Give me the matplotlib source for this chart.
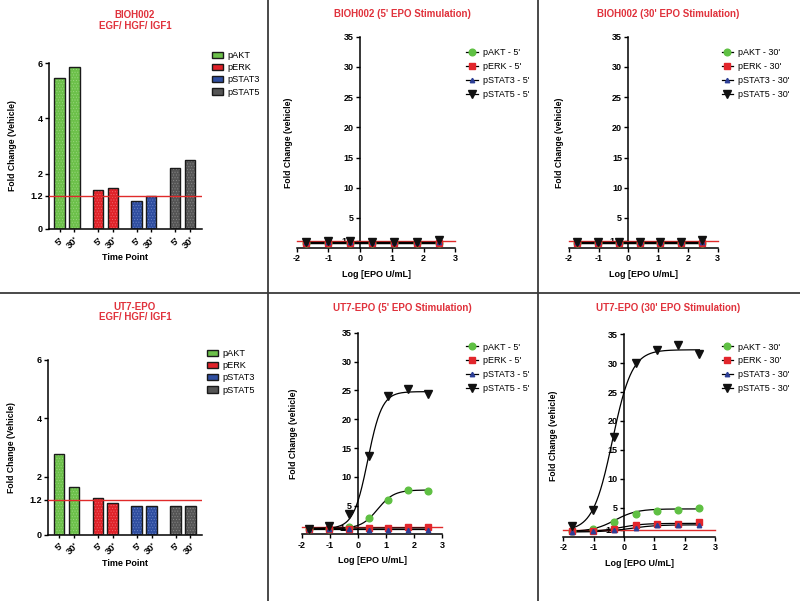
import numpy as np
import matplotlib.pyplot as plt
from matplotlib.lines import Line2D
from matplotlib.patches import Patch

plt.rcParams['font.family'] = ['Liberation Sans', 'DejaVu Sans']
plt.rcParams['font.weight'] = 'bold'
plt.rcParams['axes.labelweight'] = 'bold'
plt.rcParams['axes.unicode_minus'] = False
plt.rcParams['hatch.linewidth'] = 0.4

RED_TXT = '#e0323c'
REF_RED = '#e02a2a'

# ---------------- bar data ----------------
proteins = ['pAKT', 'pERK', 'pSTAT3', 'pSTAT5']
bar_colors = ['#6cc04a', '#e02229', '#2f4ea0', '#555555']
hatch_colors = ['#9ad67f', '#f0666a', '#6a83c6', '#888888']
time_labels = ["5'", "30'"]

bioh_5 = [5.45, 1.42, 1.00, 2.20]
bioh_30 = [5.87, 1.50, 1.18, 2.48]
ut7_5 = [2.77, 1.26, 1.00, 1.00]
ut7_30 = [1.65, 1.10, 1.00, 1.00]

# ---------------- dose response data ----------------
log_epo = [-1.72, -1.02, -0.32, 0.38, 1.08, 1.78, 2.48]

bioh5_akt = [0.9, 0.9, 0.8, 0.8, 0.9, 0.9, 0.9]
bioh5_erk = [0.9, 0.9, 0.9, 0.8, 0.9, 0.8, 0.8]
bioh5_stat3 = [1.0, 1.0, 1.0, 1.0, 1.0, 1.0, 1.0]
bioh5_stat5 = [1.0, 1.2, 1.2, 1.0, 1.0, 1.0, 1.3]

bioh30_akt = [0.9, 0.9, 0.9, 0.8, 0.9, 0.9, 0.9]
bioh30_erk = [0.8, 0.9, 0.9, 0.8, 0.8, 0.8, 0.9]
bioh30_stat3 = [1.0, 1.0, 1.0, 1.0, 1.0, 1.0, 1.0]
bioh30_stat5 = [1.0, 1.1, 1.1, 1.1, 1.1, 1.0, 1.3]

ut75_akt = [1.0, 1.0, 1.2, 2.8, 6.0, 7.7, 7.6]
ut75_erk = [1.0, 1.0, 1.0, 1.1, 1.1, 1.2, 1.2]
ut75_stat3 = [0.9, 0.9, 0.9, 0.8, 0.8, 0.8, 0.8]
ut75_stat5 = [1.0, 1.4, 3.5, 13.6, 24.0, 25.3, 24.4]

ut730_akt = [1.0, 1.3, 2.5, 4.0, 4.4, 4.6, 5.0]
ut730_erk = [0.9, 1.0, 1.4, 2.0, 2.2, 2.2, 2.5]
ut730_stat3 = [0.8, 0.9, 1.1, 1.5, 2.0, 2.0, 2.0]
ut730_stat5 = [1.8, 4.6, 17.2, 30.1, 32.2, 33.2, 31.6]

# fitted curve params: bottom, top, logEC50, hill
ut75_fits = [[1.0, 7.7, 0.7, 1.5], [1.05, 1.1, 0.0, 1.0], [0.85, 0.85, 0.0, 1.0], [1.0, 24.8, 0.35, 1.72]]
ut730_fits = [[0.9, 4.8, -0.3, 1.2], [0.9, 2.3, -0.1, 1.2], [0.8, 2.05, 0.2, 1.0], [1.0, 32.3, -0.38, 1.35]]
bioh5_fits = [[0.88, 0.88, 0, 1], [0.86, 0.86, 0, 1], [1.0, 1.0, 0, 1], [1.1, 1.1, 0, 1]]
bioh30_fits = [[0.88, 0.88, 0, 1], [0.84, 0.84, 0, 1], [1.0, 1.0, 0, 1], [1.1, 1.1, 0, 1]]

markers = ['o', 's', '^', 'v']
msizes = [4.8, 4.0, 3.2, 5.6]
mk_colors = ['#5fc043', '#e2262c', '#2c3e96', '#111111']


def logistic(x, p):
    b, t, ec, h = p
    return b + (t - b) / (1 + 10 ** ((ec - x) * h))


def style_ax(ax):
    for s in ['top', 'right']:
        ax.spines[s].set_visible(False)
    for s in ['left', 'bottom']:
        ax.spines[s].set_linewidth(1.1)
    ax.tick_params(width=1.0, length=3, labelsize=6.5, pad=1.5)


def bar_panel(rect, v5, v30, leg_xy):
    ax = fig.add_axes(rect)
    ticks, labs = [], []
    for g in range(4):
        for k, vals in enumerate([v5, v30]):
            x = g + 0.383 * k
            ax.bar(x, vals[g], 0.27, color=bar_colors[g], edgecolor=hatch_colors[g],
                   hatch='......', lw=0, zorder=2)
            ax.bar(x, vals[g], 0.27, fill=False, edgecolor='#1a1a1a', lw=1.0, zorder=3)
            ticks.append(x)
            labs.append(time_labels[k])
    ax.axhline(1.2, color=REF_RED, lw=1.0, zorder=4)
    ax.set_xlim(-0.28, 3.69)
    ax.set_ylim(0, 6)
    ax.set_yticks([0, 1.2, 2, 4, 6])
    ax.set_yticklabels(['0', '1.2', '2', '4', '6'])
    ax.set_xticks(ticks)
    ax.set_xticklabels(labs, rotation=45, ha='right', rotation_mode='anchor')
    style_ax(ax)
    ax.tick_params(axis='x', length=2, pad=2.5, labelsize=6.8)
    ax.set_xlabel('Time Point', fontsize=6.5, labelpad=2)
    ax.set_ylabel('Fold Change (Vehicle)', fontsize=6.2)
    ax.yaxis.set_label_coords(-0.206, 0.5)
    handles = [Patch(facecolor=c, edgecolor='#1a1a1a', lw=1.0) for c in bar_colors]
    ax.legend(handles, proteins, loc='upper left', bbox_to_anchor=leg_xy,
              bbox_transform=fig.transFigure, frameon=False, borderaxespad=0,
              handlelength=1.2, handleheight=0.7, labelspacing=0.35, borderpad=0,
              handletextpad=0.5, prop={'weight': 'normal', 'size': 6.6})
    return ax


def xy_panel(rect, series, fits, tag, leg_xy, lab_x):
    ax = fig.add_axes(rect)
    xx = np.linspace(min(log_epo), max(log_epo), 200)
    ax.plot([-2, 3], [1.2, 1.2], color=REF_RED, lw=1.0, zorder=3, clip_on=False)
    handles = []
    for i in range(4):
        ax.plot(xx, logistic(xx, fits[i]), color='black', lw=0.9, zorder=4, clip_on=False)
        ax.plot(log_epo, series[i], ls='none', marker=markers[i], ms=msizes[i],
                color=mk_colors[i], mec=mk_colors[i], zorder=5 + i, clip_on=False)
        handles.append(Line2D([], [], color='black', lw=0.9, marker=markers[i],
                              ms=msizes[i], mfc=mk_colors[i], mec=mk_colors[i]))
    ax.set_xlim(-2, 3)
    ax.set_ylim(0, 35)
    ax.spines['left'].set_position(('data', 0))
    ax.set_xticks([-2, -1, 0, 1, 2, 3])
    ax.set_yticks([1.2, 5, 10, 15, 20, 25, 30, 35])
    ax.set_yticklabels(['1.2', '5', '10', '15', '20', '25', '30', '35'])
    style_ax(ax)
    ax.set_xlabel('Log [EPO U/mL]', fontsize=6.5, labelpad=5)
    ax.set_ylabel('Fold Change (vehicle)', fontsize=6.2)
    ax.yaxis.set_label_coords(lab_x, 0.5)
    labels = [p + ' - ' + tag for p in proteins]
    ax.legend(handles, labels, loc='upper left', bbox_to_anchor=leg_xy,
              bbox_transform=fig.transFigure, frameon=False, handlelength=1.3,
              labelspacing=0.55, borderpad=0, borderaxespad=0, handletextpad=0.55,
              prop={'weight': 'normal', 'size': 6.5})
    return ax


fig = plt.figure(figsize=(8, 6.01), dpi=100)

# panel dividers
for xp in [268 / 800, 538 / 800]:
    fig.add_artist(Line2D([xp, xp], [0, 1], transform=fig.transFigure, color='#3a3a3a', lw=1.3))
fig.add_artist(Line2D([0, 1], [1 - 293 / 601] * 2, transform=fig.transFigure, color='#3a3a3a', lw=1.3))

# top row
bar_panel([0.061, 0.619, 0.191, 0.276], bioh_5, bioh_30, (212 / 800, 1 - 51 / 601))
fig.text(135 / 800, 1 - 20.5 / 601, 'BIOH002\nEGF/ HGF/ IGF1', color=RED_TXT, fontsize=7,
         ha='center', va='center', linespacing=1.1)

xy_panel([0.371, 0.587, 0.198, 0.352], [bioh5_akt, bioh5_erk, bioh5_stat3, bioh5_stat5],
         bioh5_fits, "5'", (466 / 800, 1 - 48 / 601), -0.023)
fig.text(402 / 800, 1 - 14 / 601, "BIOH002 (5' EPO Stimulation)", color=RED_TXT,
         fontsize=7, ha='center', va='center')

xy_panel([0.711, 0.587, 0.186, 0.352], [bioh30_akt, bioh30_erk, bioh30_stat3, bioh30_stat5],
         bioh30_fits, "30'", (721.5 / 800, 1 - 48 / 601), -0.034)
fig.text(668 / 800, 1 - 14 / 601, "BIOH002 (30' EPO Stimulation)", color=RED_TXT,
         fontsize=7, ha='center', va='center')

# bottom row
bar_panel([0.060, 0.110, 0.193, 0.291], ut7_5, ut7_30, (207 / 800, 1 - 349 / 601))
fig.text(135 / 800, 1 - 312 / 601, 'UT7-EPO\nEGF/ HGF/ IGF1', color=RED_TXT, fontsize=7,
         ha='center', va='center', linespacing=1.1)

xy_panel([0.377, 0.111, 0.176, 0.335], [ut75_akt, ut75_erk, ut75_stat3, ut75_stat5],
         ut75_fits, "5'", (466 / 800, 1 - 342.5 / 601), -0.026)
fig.text(402 / 800, 1 - 308 / 601, "UT7-EPO (5' EPO Stimulation)", color=RED_TXT,
         fontsize=7, ha='center', va='center')

xy_panel([0.704, 0.107, 0.190, 0.337], [ut730_akt, ut730_erk, ut730_stat3, ut730_stat5],
         ut730_fits, "30'", (721.5 / 800, 1 - 342.5 / 601), -0.035)
fig.text(668 / 800, 1 - 308 / 601, "UT7-EPO (30' EPO Stimulation)", color=RED_TXT,
         fontsize=7, ha='center', va='center')

fig.savefig('out.png', dpi=100)
